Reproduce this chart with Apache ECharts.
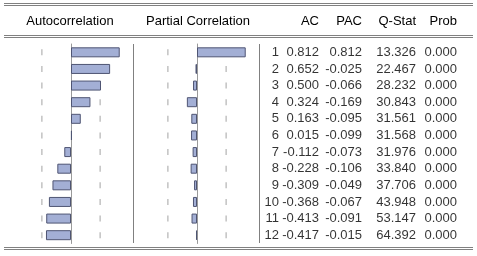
<!DOCTYPE html>
<html>
<head>
<meta charset="utf-8">
<script src="https://cdn.jsdelivr.net/npm/echarts@6/dist/echarts.min.js"></script>
<style>
  html, body { margin: 0; background: #fff; }
  #chart { width: 477px; height: 256px; }
</style>
</head>
<body>
<div id="chart"></div>
<script>
const lags = ['1', '2', '3', '4', '5', '6', '7', '8', '9', '10', '11', '12']
const ac = [0.812, 0.652, 0.500, 0.324, 0.163, 0.015, -0.112, -0.228, -0.309, -0.368, -0.413, -0.417]
const pac = [0.812, -0.025, -0.066, -0.169, -0.095, -0.099, -0.073, -0.106, -0.049, -0.067, -0.091, -0.015]
const qstat = [13.326, 22.467, 28.232, 30.843, 31.561, 31.568, 31.976, 33.840, 37.706, 43.948, 53.147, 64.392]
const prob = [0, 0, 0, 0, 0, 0, 0, 0, 0, 0, 0, 0]
const headers = ['Autocorrelation', 'Partial Correlation', 'AC', 'PAC', 'Q-Stat', 'Prob']
const bound = 0.485

const font = 'Liberation Sans, Arial, sans-serif'
const colRight = [279, 319, 362, 416, 457]

function barPanel(idx, values) {
  return [
    {
      type: 'scatter',
      xAxisIndex: idx,
      yAxisIndex: idx,
      symbol: 'rect',
      symbolSize: [1, 6],
      itemStyle: { color: '#8c8c8c' },
      z: 1,
      silent: true,
      data: lags.flatMap((l) => [[-bound, l], [bound, l]]),
    },
    {
      type: 'bar',
      xAxisIndex: idx,
      yAxisIndex: idx,
      barWidth: 10,
      itemStyle: { color: '#a3afd5', borderColor: '#4f5573', borderWidth: 1 },
      z: 3,
      data: values,
    },
  ]
}

function textColumn(col, values) {
  return {
    type: 'scatter',
    xAxisIndex: 2,
    yAxisIndex: 2,
    symbolSize: 0,
    silent: true,
    label: {
      show: true,
      position: 'left',
      distance: 0,
      color: '#000',
      fontFamily: font,
      fontSize: 13,
      formatter: (p) => p.data[2],
    },
    data: values.map((v, i) => [colRight[col], lags[i], v]),
  }
}

const valueAxis = (i, min, max) => ({
  type: 'value', gridIndex: i, min: min, max: max,
  axisLine: { show: false }, axisTick: { show: false },
  axisLabel: { show: false }, splitLine: { show: false },
})
const catAxis = (i, showLine) => ({
  type: 'category', gridIndex: i, data: lags, inverse: true,
  axisLine: { show: showLine, onZero: true, lineStyle: { color: '#9a9a9a', width: 1 } },
  axisTick: { show: false }, axisLabel: { show: false }, splitLine: { show: false },
})

const hline = (y) => ({
  type: 'line', shape: { x1: 4, y1: y, x2: 473, y2: y },
  style: { stroke: '#808080', lineWidth: 1 },
})
const vline = (x) => ({
  type: 'line', shape: { x1: x, y1: 44, x2: x, y2: 243 },
  style: { stroke: '#808080', lineWidth: 1 },
})
const headX = [70, 198, colRight[1], colRight[2], colRight[3], colRight[4]]
const headAlign = ['center', 'center', 'right', 'right', 'right', 'right']

const chart = echarts.init(document.getElementById('chart'))
chart.setOption({
  animation: false,
  grid: [
    { left: 11, width: 120, top: 44, height: 199.5 },
    { left: 137, width: 120, top: 44, height: 199.5 },
    { left: 0, width: 477, top: 44, height: 199.5 },
  ],
  xAxis: [valueAxis(0, -1, 1), valueAxis(1, -1, 1), valueAxis(2, 0, 477)],
  yAxis: [catAxis(0, true), catAxis(1, true), catAxis(2, false)],
  series: [
    ...barPanel(0, ac),
    ...barPanel(1, pac),
    textColumn(0, lags),
    textColumn(1, ac.map((v) => v.toFixed(3))),
    textColumn(2, pac.map((v) => v.toFixed(3))),
    textColumn(3, qstat.map((v) => v.toFixed(3))),
    textColumn(4, prob.map((v) => v.toFixed(3))),
  ],
  graphic: [
    hline(3.5), hline(5.5), hline(35.5), hline(37.5), hline(247.5), hline(249.5),
    vline(133.5), vline(259.5),
    ...headers.map((h, i) => ({
      type: 'text', x: headX[i], y: 21,
      style: { text: h, fill: '#000', font: '13px ' + font, align: headAlign[i], verticalAlign: 'middle' },
    })),
  ],
})
</script>
</body>
</html>
